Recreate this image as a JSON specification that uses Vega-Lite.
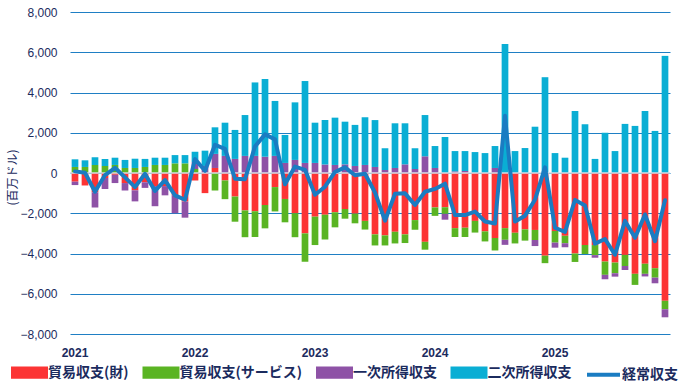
{
  "$schema": "https://vega.github.io/schema/vega-lite/v6.json",
  "width": 600,
  "height": 322,
  "autosize": {"type": "none"},
  "padding": {"left": 70, "top": 12, "right": 10, "bottom": 51},
  "background": "white",
  "config": {"view": {"stroke": null}, "font": "Liberation Sans"},
  "data": {"values": [
    {"m":"2021-01","goods":-430,"services":300,"primary":-170,"secondary":380,"ca":80},
    {"m":"2021-02","goods":-620,"services":300,"primary":0,"secondary":330,"ca":10},
    {"m":"2021-03","goods":-960,"services":400,"primary":-750,"secondary":380,"ca":-930},
    {"m":"2021-04","goods":-250,"services":350,"primary":-550,"secondary":350,"ca":-100},
    {"m":"2021-05","goods":-90,"services":400,"primary":-410,"secondary":360,"ca":260},
    {"m":"2021-06","goods":-500,"services":250,"primary":-370,"secondary":400,"ca":-220},
    {"m":"2021-07","goods":-860,"services":250,"primary":-550,"secondary":460,"ca":-700},
    {"m":"2021-08","goods":-460,"services":300,"primary":-280,"secondary":400,"ca":-40},
    {"m":"2021-09","goods":-650,"services":400,"primary":-1000,"secondary":360,"ca":-890},
    {"m":"2021-10","goods":-650,"services":400,"primary":-460,"secondary":360,"ca":-350},
    {"m":"2021-11","goods":-1100,"services":480,"primary":-900,"secondary":410,"ca":-1110},
    {"m":"2021-12","goods":-1420,"services":480,"primary":-800,"secondary":410,"ca":-1330},
    {"m":"2022-01","goods":-370,"services":200,"primary":350,"secondary":510,"ca":690},
    {"m":"2022-02","goods":-1000,"services":0,"primary":350,"secondary":760,"ca":110},
    {"m":"2022-03","goods":250,"services":-870,"primary":700,"secondary":1320,"ca":1400},
    {"m":"2022-04","goods":-370,"services":-930,"primary":850,"secondary":1650,"ca":1200},
    {"m":"2022-05","goods":-1170,"services":-1250,"primary":700,"secondary":1440,"ca":-280},
    {"m":"2022-06","goods":-1860,"services":-1330,"primary":850,"secondary":2030,"ca":-310},
    {"m":"2022-07","goods":-1900,"services":-1280,"primary":850,"secondary":3650,"ca":1320},
    {"m":"2022-08","goods":-1590,"services":-1160,"primary":810,"secondary":3860,"ca":1920},
    {"m":"2022-09","goods":-700,"services":-1210,"primary":850,"secondary":2730,"ca":1670},
    {"m":"2022-10","goods":-1290,"services":-1160,"primary":500,"secondary":1390,"ca":-560},
    {"m":"2022-11","goods":-2000,"services":-1190,"primary":650,"secondary":2860,"ca":320},
    {"m":"2022-12","goods":-3000,"services":-1410,"primary":500,"secondary":4070,"ca":160},
    {"m":"2023-01","goods":-2170,"services":-1410,"primary":500,"secondary":2000,"ca":-1080},
    {"m":"2023-02","goods":-2070,"services":-1240,"primary":420,"secondary":2210,"ca":-680},
    {"m":"2023-03","goods":-1950,"services":-750,"primary":400,"secondary":2350,"ca":50},
    {"m":"2023-04","goods":-1790,"services":-480,"primary":430,"secondary":2120,"ca":280},
    {"m":"2023-05","goods":-2020,"services":-480,"primary":350,"secondary":2040,"ca":-110},
    {"m":"2023-06","goods":-2380,"services":-430,"primary":400,"secondary":2370,"ca":-40},
    {"m":"2023-07","goods":-3050,"services":-550,"primary":300,"secondary":2330,"ca":-970},
    {"m":"2023-08","goods":-3100,"services":-500,"primary":150,"secondary":1080,"ca":-2370},
    {"m":"2023-09","goods":-2920,"services":-580,"primary":250,"secondary":2220,"ca":-1030},
    {"m":"2023-10","goods":-3050,"services":-430,"primary":430,"secondary":2040,"ca":-1010},
    {"m":"2023-11","goods":-2340,"services":-480,"primary":200,"secondary":1030,"ca":-1590},
    {"m":"2023-12","goods":-3420,"services":-390,"primary":830,"secondary":2050,"ca":-930},
    {"m":"2024-01","goods":-1710,"services":-420,"primary":250,"secondary":1090,"ca":-790},
    {"m":"2024-02","goods":-1700,"services":-330,"primary":-290,"secondary":1790,"ca":-530},
    {"m":"2024-03","goods":-2740,"services":-440,"primary":80,"secondary":1010,"ca":-2090},
    {"m":"2024-04","goods":-2720,"services":-460,"primary":100,"secondary":990,"ca":-2090},
    {"m":"2024-05","goods":-2380,"services":-580,"primary":0,"secondary":1040,"ca":-1920},
    {"m":"2024-06","goods":-2900,"services":-500,"primary":0,"secondary":990,"ca":-2410},
    {"m":"2024-07","goods":-3230,"services":-620,"primary":250,"secondary":1090,"ca":-2510},
    {"m":"2024-08","goods":-2740,"services":-580,"primary":-250,"secondary":6410,"ca":2840},
    {"m":"2024-09","goods":-2970,"services":-530,"primary":0,"secondary":1090,"ca":-2410},
    {"m":"2024-10","goods":-2800,"services":-560,"primary":0,"secondary":1240,"ca":-2120},
    {"m":"2024-11","goods":-2830,"services":-500,"primary":-300,"secondary":2300,"ca":-1330},
    {"m":"2024-12","goods":-4110,"services":-370,"primary":0,"secondary":4760,"ca":280},
    {"m":"2025-01","goods":-2880,"services":-580,"primary":-250,"secondary":990,"ca":-2720},
    {"m":"2025-02","goods":-3120,"services":-370,"primary":-200,"secondary":760,"ca":-2930},
    {"m":"2025-03","goods":-4000,"services":-420,"primary":0,"secondary":3080,"ca":-1340},
    {"m":"2025-04","goods":-3580,"services":-450,"primary":0,"secondary":2420,"ca":-1610},
    {"m":"2025-05","goods":-3580,"services":-500,"primary":-130,"secondary":700,"ca":-3510},
    {"m":"2025-06","goods":-4400,"services":-660,"primary":-220,"secondary":2000,"ca":-3280},
    {"m":"2025-07","goods":-4450,"services":-530,"primary":-170,"secondary":1090,"ca":-4060},
    {"m":"2025-08","goods":-4070,"services":-550,"primary":-200,"secondary":2440,"ca":-2380},
    {"m":"2025-09","goods":-5010,"services":-550,"primary":0,"secondary":2340,"ca":-3220},
    {"m":"2025-10","goods":-4510,"services":-500,"primary":-130,"secondary":3080,"ca":-2060},
    {"m":"2025-11","goods":-4730,"services":-470,"primary":-280,"secondary":2090,"ca":-3390},
    {"m":"2025-12","goods":-6350,"services":-420,"primary":-400,"secondary":5820,"ca":-1350}
  ]},
  "layer": [
    {
      "transform": [
        {"fold": ["goods", "services", "primary", "secondary"], "as": ["k", "v"]},
        {"lookup": "k", "from": {"data": {"values": [
          {"k": "goods", "label": "貿易収支(財)", "o": 1},
          {"k": "services", "label": "貿易収支(サービス)", "o": 2},
          {"k": "primary", "label": "一次所得収支", "o": 3},
          {"k": "secondary", "label": "二次所得収支", "o": 4}
        ]}, "key": "k", "fields": ["label", "o"]}}
      ],
      "mark": {"type": "bar"},
      "encoding": {
        "x": {
          "field": "m", "type": "ordinal",
          "scale": {"paddingInner": 0.33, "paddingOuter": 0.165},
          "axis": {
            "labelExpr": "substring(datum.value,5,7) == '01' ? substring(datum.value,0,4) : ''",
            "labelAngle": 0, "ticks": false, "domain": false, "title": null,
            "labelFontSize": 12, "labelFontWeight": "bold", "labelColor": "#1b2b5e",
            "labelPadding": 13, "labelOverlap": false, "labelFont": "Liberation Sans"
          }
        },
        "y": {
          "field": "v", "type": "quantitative",
          "scale": {"domain": [-8000, 8000], "nice": false},
          "axis": {
            "values": [-8000, -6000, -4000, -2000, 0, 2000, 4000, 6000, 8000],
            "labelExpr": "format(datum.value, ',')", "title": "(百万ドル)",
            "titleFont": "Noto Sans CJK JP", "titleFontSize": 12, "titleFontWeight": "normal",
            "titleColor": "#1b2b5e", "titleAngle": 270, "titleX": -58, "titleY": 165,
            "titleAlign": "center", "titleBaseline": "middle",
            "labelFontSize": 12, "labelColor": "#1b2b5e", "labelPadding": 13, "labelFont": "Liberation Sans",
            "ticks": false, "domain": false, "grid": true, "gridColor": "#1f7fc4", "gridWidth": 1, "gridOpacity": 1
          }
        },
        "color": {
          "field": "label", "type": "nominal",
          "scale": {
            "domain": ["貿易収支(財)", "貿易収支(サービス)", "一次所得収支", "二次所得収支", "経常収支"],
            "range": ["#fc3434", "#5ab423", "#8e52a6", "#0aaed4", "#1a7cc2"]
          },
          "legend": {
            "orient": "none", "legendX": -59, "legendY": 342, "direction": "horizontal", "columns": 5, "title": null,
            "symbolType": "M-1,-0.25H1V0.25H-1Z", "symbolSize": 1089, "symbolStrokeWidth": 4,
            "labelFont": "Noto Sans CJK JP", "labelFontSize": 14, "labelFontWeight": "bold",
            "labelColor": "#1b2b5e", "labelOffset": 0, "columnPadding": 7.5,
            "encode": {"symbols": {"update": {
              "shape": {"signal": "datum.value === '経常収支' ? 'stroke' : 'M-1,-0.25H1V0.25H-1Z'"},
              "stroke": {"signal": "datum.value === '経常収支' ? scale('color', datum.value) : 'transparent'"},
              "fill": {"scale": "color", "field": "value"},
              "opacity": {"value": 1}
            }}}
          }
        },
        "order": {"field": "o", "type": "quantitative", "sort": "ascending"}
      }
    },
    {
      "data": {"values": [{"zero": 0}]},
      "mark": {"type": "rule", "color": "#d6dde4", "strokeWidth": 1.5},
      "encoding": {"y": {"field": "zero", "type": "quantitative", "title": "(百万ドル)"}}
    },
    {
      "mark": {"type": "line", "strokeWidth": 4, "strokeJoin": "round", "strokeCap": "round"},
      "encoding": {
        "x": {"field": "m", "type": "ordinal"},
        "y": {"field": "ca", "type": "quantitative", "title": "(百万ドル)"},
        "color": {"datum": "経常収支"}
      }
    }
  ]
}
